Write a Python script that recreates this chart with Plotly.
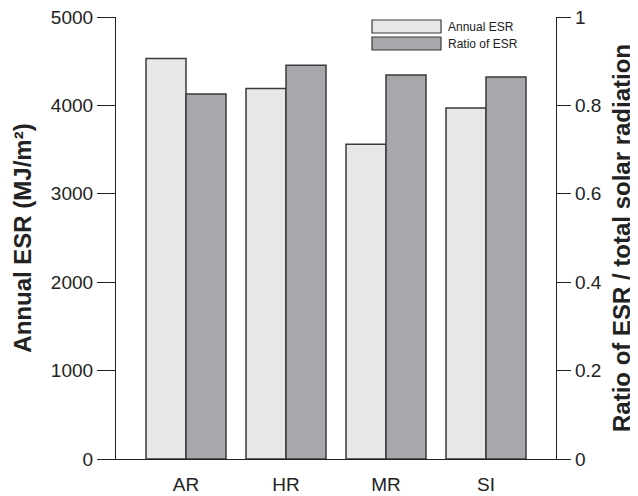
import plotly.graph_objects as go

categories = ["AR", "HR", "MR", "SI"]
annual_esr = [4530, 4190, 3560, 3970]
ratio_esr = [0.826, 0.891, 0.869, 0.864]
left_ticks = [0, 1000, 2000, 3000, 4000, 5000]
right_ticks = [0, 0.2, 0.4, 0.6, 0.8, 1]

LIGHT = "#e6e7e9"
DARK = "#a7a8ab"
EDGE = "#3a3a3a"
FONT = "Liberation Sans, Arial, sans-serif"

fig = go.Figure()
fig.add_trace(go.Bar(x=categories, y=annual_esr, name="Annual ESR",
                     marker=dict(color=LIGHT, line=dict(color=EDGE, width=1.5)),
                     width=0.4, offset=-0.4, yaxis="y", showlegend=False))
fig.add_trace(go.Bar(x=categories, y=ratio_esr, name="Ratio of ESR",
                     marker=dict(color=DARK, line=dict(color=EDGE, width=1.5)),
                     width=0.4, offset=0.0, yaxis="y2", showlegend=False))

# custom legend (wide boxes like the original)
legend_items = [("Annual ESR", LIGHT, 0.0), ("Ratio of ESR", DARK, 1.0)]
for label, col, i in legend_items:
    y_top = 20 + i * 17
    fig.add_shape(type="rect", xref="paper", yref="paper",
                  x0=(372 - 116) / 440, x1=(441 - 116) / 440,
                  y0=1 - (y_top + 13 - 17) / 442, y1=1 - (y_top - 17) / 442,
                  fillcolor=col, line=dict(color=EDGE, width=1.2))
    fig.add_annotation(text=label, xref="paper", yref="paper",
                       x=(446 - 116) / 440, y=1 - (y_top + 6.5 - 17) / 442,
                       xanchor="left", yanchor="middle", showarrow=False,
                       font=dict(size=12, color="#222", family=FONT))

fig.update_layout(
    width=638, height=496,
    margin=dict(l=108, r=90, t=9, b=45),
    paper_bgcolor="white", plot_bgcolor="white",
    font=dict(family=FONT, color="#222", size=19),
    bargap=0.2,
    xaxis=dict(range=[-0.7, 3.7], showline=True, linecolor="#222", linewidth=1.2,
               ticks="outside", ticklen=8, tickcolor="rgba(0,0,0,0)",
               showgrid=False, zeroline=False, automargin=False,
               tickfont=dict(size=19)),
    yaxis=dict(range=[0, 5000], tickvals=left_ticks, showline=True, linecolor="#222",
               linewidth=1.2, ticks="outside", ticklen=18, tickcolor="#222", tickwidth=1.2,
               showgrid=False, zeroline=False, automargin=False, ticklabeloverflow="allow",
               title=dict(text="<b>Annual ESR (MJ/m²)</b>", font=dict(size=24), standoff=12)),
    yaxis2=dict(range=[0, 1], tickvals=right_ticks, overlaying="y", side="right",
                showline=True, linecolor="#222", linewidth=1.2, ticks="outside", ticklen=14,
                tickcolor="#222", tickwidth=1.2, showgrid=False, zeroline=False, automargin=False,
                ticklabeloverflow="allow",
                title=dict(text="<b>Ratio of ESR / total solar radiation</b>", font=dict(size=24),
                           standoff=12)),
)

fig.write_html("out.html")
